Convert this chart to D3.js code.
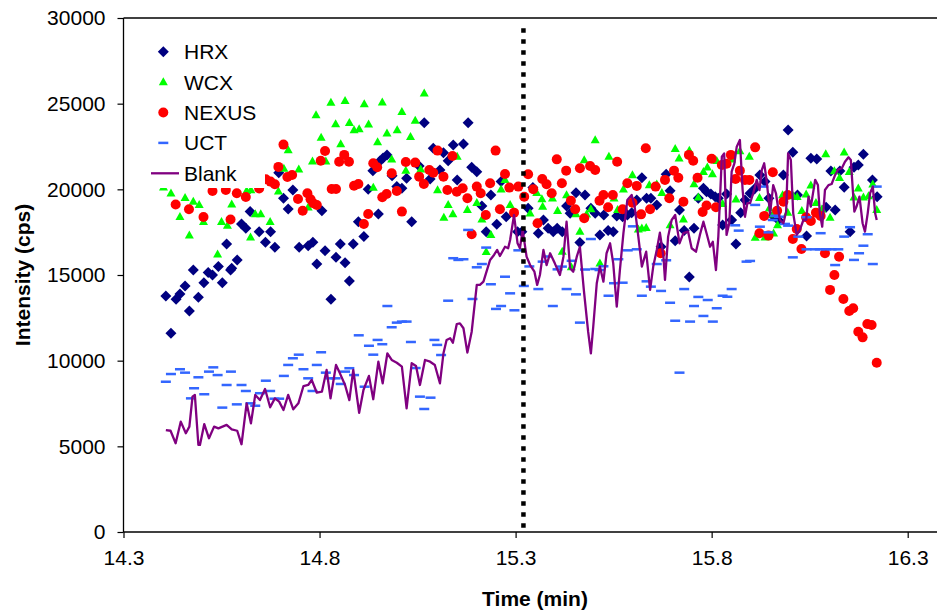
<!DOCTYPE html>
<html>
<head>
<meta charset="utf-8">
<script src="https://cdnjs.cloudflare.com/ajax/libs/d3/7.8.5/d3.min.js"></script>
<style>
  body { margin: 0; background: #fff; }
  svg { display: block; font-family: "Liberation Sans", Arial, sans-serif; }
</style>
</head>
<body>
<div id="chartContainer"></div>
<script>

////////////////////// data (time in min, intensity in cps) //////////////////////
var hrxData = [[14.408,13780],[14.421,11600],[14.434,13580],[14.444,13890],[14.457,14360],[14.468,12900],[14.478,15290],[14.491,13700],[14.505,14550],[14.516,15140],[14.527,15000],[14.542,15490],[14.552,14550],[14.563,16810],[14.573,15290],[14.576,15390],[14.590,15880],[14.601,17980],[14.612,17730],[14.623,18700],[14.646,17530],[14.662,16910],[14.675,17530],[14.686,16620],[14.696,20970],[14.708,19480],[14.720,18850],[14.732,19960],[14.748,16620],[14.771,16710],[14.783,16910],[14.793,15640],[14.806,18750],[14.814,16420],[14.829,13580],[14.842,16030],[14.853,16810],[14.865,15720],[14.876,14650],[14.886,16810],[14.899,18110],[14.913,17240],[14.924,20000],[14.936,21090],[14.950,18560],[14.954,21660],[14.962,21830],[14.972,22010],[14.985,20800],[14.997,20160],[15.010,20060],[15.022,20650],[15.035,18110],[15.054,21360],[15.067,23890],[15.082,20610],[15.090,22400],[15.107,21130],[15.116,22140],[15.128,21670],[15.141,22590],[15.151,20550],[15.167,22650],[15.179,23890],[15.188,21290],[15.201,21030],[15.214,19030],[15.225,17530],[15.237,19670],[15.252,17960],[15.263,20450],[15.276,18400],[15.305,17530],[15.316,17530],[15.332,18890],[15.344,20100],[15.358,17440],[15.371,18210],[15.383,17730],[15.396,17530],[15.406,17730],[15.419,17530],[15.430,19030],[15.439,18600],[15.454,19800],[15.464,16890],[15.477,19670],[15.492,18890],[15.503,18600],[15.515,17340],[15.525,18500],[15.536,17590],[15.549,17530],[15.558,18450],[15.573,18400],[15.585,18500],[15.596,18640],[15.609,19380],[15.622,20680],[15.634,19480],[15.645,19480],[15.660,19090],[15.671,16650],[15.684,20880],[15.694,19920],[15.707,17000],[15.718,18800],[15.730,17590],[15.743,14880],[15.755,17730],[15.766,19480],[15.779,20060],[15.787,19860],[15.798,19730],[15.809,19570],[15.817,19480],[15.828,17920],[15.838,19730],[15.851,18210],[15.862,16810],[15.874,18640],[15.885,19380],[15.898,19770],[15.911,20060],[15.923,20840],[15.936,20450],[15.946,19480],[15.957,18450],[15.970,18210],[15.983,20840],[15.995,23460],[16.007,22160],[16.019,19670],[16.042,17280],[16.053,21810],[16.068,21770],[16.092,18950],[16.104,21070],[16.115,18800],[16.127,21070],[16.138,20120],[16.153,17530],[16.163,21290],[16.174,21420],[16.187,22050],[16.210,20550],[16.222,19570]];

var wcxData = [[14.402,20120],[14.421,19770],[14.444,18390],[14.457,19500],[14.468,17310],[14.478,19280],[14.493,19090],[14.504,18110],[14.540,16210],[14.550,18110],[14.565,17890],[14.576,19120],[14.614,19920],[14.624,17200],[14.625,19960],[14.636,18560],[14.650,18560],[14.674,18110],[14.695,19890],[14.709,21210],[14.720,22300],[14.747,21170],[14.771,18950],[14.782,21640],[14.791,24340],[14.804,23020],[14.816,21640],[14.829,25060],[14.841,23810],[14.854,22650],[14.865,25170],[14.876,23890],[14.888,23460],[14.901,23520],[14.914,24980],[14.925,23800],[14.937,20100],[14.948,22760],[14.960,25080],[14.972,23270],[14.984,21750],[14.998,23460],[15.010,24530],[15.020,21090],[15.032,23070],[15.044,24010],[15.058,21170],[15.067,25610],[15.101,19960],[15.117,18360],[15.128,19090],[15.140,18560],[15.151,21910],[15.177,18800],[15.201,19220],[15.214,18250],[15.225,16360],[15.237,17340],[15.263,20000],[15.273,20550],[15.286,19090],[15.337,18600],[15.354,19800],[15.367,19440],[15.369,18990],[15.394,19480],[15.407,18740],[15.419,16370],[15.430,19670],[15.442,15470],[15.454,18560],[15.464,17530],[15.475,21710],[15.481,18540],[15.492,18850],[15.503,22880],[15.515,15680],[15.538,21910],[15.551,19480],[15.560,18800],[15.575,20000],[15.598,20840],[15.613,17670],[15.622,17730],[15.633,17760],[15.641,20250],[15.660,20300],[15.673,19800],[15.694,17920],[15.707,22360],[15.717,21810],[15.728,18250],[15.743,22260],[15.755,20310],[15.766,19540],[15.779,21030],[15.789,21280],[15.802,20890],[15.813,21660],[15.828,19160],[15.851,21750],[15.862,19420],[15.872,22240],[15.896,21910],[15.911,17180],[15.922,19510],[15.936,17200],[15.947,18890],[15.957,18540],[15.958,17440],[15.968,17920],[15.981,19670],[15.994,18640],[16.008,19610],[16.018,19570],[16.030,18740],[16.041,19710],[16.053,20240],[16.066,19220],[16.081,18840],[16.091,22060],[16.102,18350],[16.113,21070],[16.126,20680],[16.138,22160],[16.151,21030],[16.163,19540],[16.174,20060],[16.187,19540],[16.200,19610],[16.211,20300],[16.221,18800]];

var nexusData = [[14.433,19120],[14.467,18840],[14.504,18390],[14.527,19900],[14.561,19960],[14.573,18240],[14.589,19770],[14.612,19550],[14.646,20050],[14.663,20590],[14.675,20450],[14.686,20300],[14.695,21310],[14.708,22610],[14.718,20720],[14.730,20840],[14.745,19440],[14.757,18750],[14.769,19770],[14.777,19420],[14.784,19190],[14.793,19090],[14.803,21670],[14.814,22240],[14.831,20020],[14.842,20020],[14.850,21610],[14.863,22010],[14.875,21610],[14.888,20210],[14.899,20310],[14.913,17980],[14.924,18560],[14.937,21520],[14.947,21290],[14.960,19540],[14.971,19730],[14.984,20940],[14.997,19900],[15.010,18700],[15.020,21600],[15.044,21560],[15.054,20740],[15.066,20310],[15.080,21130],[15.090,20970],[15.101,22260],[15.116,20740],[15.126,19960],[15.139,21950],[15.150,19860],[15.165,20060],[15.177,19480],[15.188,17380],[15.201,20160],[15.211,19770],[15.224,18500],[15.235,20350],[15.249,22260],[15.260,18840],[15.273,20900],[15.284,20100],[15.296,18640],[15.307,20160],[15.322,19570],[15.332,20880],[15.345,20000],[15.356,18020],[15.368,20600],[15.379,20300],[15.392,19770],[15.405,21750],[15.418,20350],[15.429,21090],[15.441,19340],[15.452,18840],[15.464,21230],[15.475,18310],[15.490,21360],[15.503,21130],[15.514,19340],[15.524,19670],[15.536,18950],[15.548,19670],[15.559,21610],[15.573,18840],[15.585,20350],[15.598,19220],[15.609,20200],[15.620,18540],[15.632,22400],[15.643,18840],[15.657,20160],[15.670,16270],[15.681,20550],[15.692,19480],[15.704,21090],[15.715,20680],[15.728,19280],[15.742,22010],[15.753,21670],[15.764,20680],[15.777,18680],[15.787,19060],[15.800,21790],[15.811,18950],[15.826,21420],[15.838,21490],[15.849,22010],[15.861,20600],[15.872,21090],[15.885,20550],[15.896,20550],[15.911,22450],[15.922,17440],[15.934,18450],[15.945,17300],[15.956,21000],[15.967,18750],[15.983,19280],[15.994,19670],[16.007,17100],[16.017,17690],[16.029,16520],[16.041,18370],[16.053,18150],[16.066,18640],[16.078,18450],[16.089,16270],[16.102,14130],[16.113,15000],[16.125,16070],[16.136,13600],[16.151,12900],[16.161,13060],[16.174,11690],[16.185,11360],[16.197,12140],[16.208,12080],[16.221,9880]];

var uctData = [[14.408,8770],[14.421,9220],[14.444,9500],[14.457,9300],[14.472,7800],[14.480,8390],[14.491,9030],[14.506,8040],[14.518,9360],[14.529,9610],[14.540,9160],[14.552,7260],[14.563,8580],[14.574,9360],[14.589,7450],[14.601,8580],[14.612,8230],[14.624,7510],[14.636,7370],[14.648,8100],[14.663,8830],[14.674,8230],[14.685,7780],[14.697,7780],[14.709,9110],[14.720,9750],[14.732,10140],[14.747,10350],[14.759,9500],[14.771,8970],[14.782,8230],[14.793,9750],[14.804,10490],[14.816,9300],[14.828,8970],[14.841,8970],[14.854,8640],[14.865,9360],[14.876,9560],[14.888,9160],[14.900,11480],[14.915,8480],[14.926,10870],[14.937,10350],[14.948,11210],[14.960,10960],[14.973,13190],[14.984,11950],[14.997,12220],[15.010,12280],[15.022,12280],[15.033,11090],[15.045,9570],[15.056,7900],[15.067,7180],[15.083,7840],[15.093,11210],[15.100,10920],[15.110,10330],[15.128,13500],[15.141,15980],[15.154,15880],[15.167,15920],[15.179,17630],[15.190,13600],[15.201,15450],[15.214,15640],[15.225,16600],[15.237,14460],[15.250,13020],[15.263,13190],[15.273,14900],[15.286,13930],[15.297,12940],[15.307,16440],[15.321,14360],[15.335,15500],[15.358,14180],[15.369,15780],[15.380,16080],[15.395,13190],[15.407,15330],[15.418,15490],[15.430,14180],[15.443,15830],[15.454,13870],[15.464,12220],[15.477,15320],[15.492,17100],[15.503,15350],[15.514,15290],[15.524,15510],[15.537,13790],[15.551,14520],[15.562,15920],[15.573,14550],[15.586,16440],[15.599,17840],[15.609,16500],[15.622,13790],[15.634,14630],[15.645,14320],[15.660,15640],[15.671,14070],[15.684,15860],[15.694,13380],[15.707,12330],[15.718,9300],[15.730,14180],[15.745,12280],[15.755,13190],[15.766,13720],[15.779,12610],[15.790,13540],[15.803,12280],[15.813,13060],[15.828,13790],[15.840,13730],[15.851,14180],[15.860,17900],[15.869,17590],[15.889,15780],[15.898,15820],[15.911,19090],[15.923,17820],[15.932,20160],[15.945,17490],[15.956,18210],[15.962,18460],[15.972,18400],[15.987,17980],[15.995,17880],[16.007,16030],[16.021,17240],[16.042,18370],[16.042,16500],[16.064,16500],[16.076,16500],[16.078,17440],[16.092,16500],[16.106,16500],[16.115,15580],[16.123,16500],[16.138,17240],[16.153,17790],[16.163,15880],[16.176,16270],[16.187,16710],[16.198,17380],[16.211,15640],[16.221,20160]];

var blankData = [[14.408,5950],[14.420,5910],[14.433,5180],[14.446,6440],[14.459,5760],[14.468,6150],[14.476,7900],[14.482,8000],[14.491,5080],[14.495,5080],[14.506,6300],[14.518,5470],[14.531,6150],[14.542,6050],[14.563,6250],[14.576,5990],[14.590,5910],[14.601,5120],[14.614,7510],[14.625,6340],[14.636,8000],[14.648,7700],[14.661,8350],[14.674,7280],[14.686,7800],[14.697,7610],[14.708,7120],[14.720,8000],[14.733,7160],[14.746,7510],[14.759,8520],[14.771,8580],[14.780,8870],[14.793,8130],[14.806,8190],[14.818,9460],[14.828,7800],[14.842,9750],[14.852,9260],[14.865,8580],[14.876,7700],[14.886,9460],[14.901,6960],[14.912,8290],[14.926,9110],[14.937,7750],[14.950,9940],[14.961,8680],[14.973,10430],[14.984,10040],[14.997,9880],[15.010,9650],[15.022,7220],[15.035,9850],[15.046,9690],[15.056,8580],[15.069,10040],[15.082,9940],[15.094,9750],[15.107,8680],[15.116,10430],[15.124,11210],[15.133,11310],[15.140,11050],[15.150,12140],[15.158,12180],[15.167,11890],[15.177,10470],[15.188,11690],[15.201,14420],[15.209,14420],[15.218,14610],[15.235,15880],[15.245,16170],[15.253,16460],[15.260,16110],[15.273,16650],[15.281,16560],[15.286,17040],[15.296,18500],[15.305,16850],[15.311,16560],[15.318,17630],[15.328,16070],[15.337,15580],[15.348,15190],[15.355,14420],[15.362,15000],[15.371,16460],[15.379,15580],[15.388,16270],[15.400,15680],[15.413,15000],[15.422,16070],[15.430,18110],[15.439,15390],[15.447,15190],[15.456,16070],[15.464,16650],[15.474,14130],[15.485,11690],[15.492,10430],[15.498,11980],[15.507,14520],[15.515,15490],[15.524,14610],[15.532,16270],[15.541,16850],[15.549,15680],[15.558,13150],[15.566,15290],[15.575,17440],[15.585,19380],[15.596,19670],[15.603,19090],[15.613,17240],[15.622,15490],[15.633,16360],[15.643,14130],[15.651,15490],[15.660,16460],[15.668,17470],[15.677,16070],[15.681,14710],[15.689,17240],[15.698,18210],[15.707,18500],[15.718,16850],[15.728,17440],[15.740,17530],[15.749,16560],[15.760,16360],[15.770,17340],[15.779,18110],[15.787,17440],[15.796,16650],[15.803,16940],[15.811,15290],[15.817,17240],[15.826,21910],[15.832,22100],[15.838,17340],[15.845,18020],[15.851,21030],[15.858,21520],[15.864,22490],[15.872,22880],[15.879,19960],[15.885,18400],[15.891,19190],[15.898,19190],[15.906,19770],[15.915,20550],[15.922,19960],[15.928,21130],[15.934,21520],[15.940,20550],[15.949,18600],[15.957,20250],[15.964,19770],[15.974,18210],[15.983,18020],[15.990,18700],[15.995,22100],[16.002,21710],[16.008,18600],[16.017,17340],[16.025,17630],[16.034,18210],[16.041,18210],[16.047,19570],[16.053,18990],[16.064,20550],[16.071,20250],[16.076,18600],[16.082,17820],[16.089,19960],[16.098,20250],[16.106,20310],[16.115,20840],[16.123,21170],[16.132,21230],[16.140,21610],[16.149,21870],[16.155,21710],[16.160,19960],[16.164,18700],[16.170,19030],[16.177,19570],[16.185,18020],[16.191,17530],[16.198,18600],[16.204,19770],[16.211,20160],[16.217,18600],[16.221,18210]];

var seriesNames = ["HRX", "WCX", "NEXUS", "UCT", "Blank"];
var xTicks = [14.3, 14.8, 15.3, 15.8, 16.3];
var yTicks = [0, 5000, 10000, 15000, 20000, 25000, 30000];
var markerTime = 15.32;   // dotted vertical line
var markerTop = 29400;

////////////////////// init //////////////////////
var chartWidth = 937, chartHeight = 614;
var plotLeft = 123.5, plotTop = 18, plotBottom = 532, plotRight = 937;

var svg = d3.select('#chartContainer')
  .append('svg')
    .attr('width', chartWidth)
    .attr('height', chartHeight);

svg.append('rect')
  .attr('width', chartWidth)
  .attr('height', chartHeight)
  .attr('fill', '#fff');

var xScale = d3.scaleLinear()
  .domain([14.3, 16.3])
  .range([plotLeft, 907.7]);

var yScale = d3.scaleLinear()
  .domain([0, 30000])
  .range([plotBottom, plotTop]);

var colors = { HRX: '#000080', WCX: '#00FF00', NEXUS: '#FF0000', UCT: '#3366FF', Blank: '#800080' };

////////////////////// axes //////////////////////
var xAxis = d3.axisBottom(xScale)
  .tickValues(xTicks)
  .tickFormat(d3.format('.1f'))
  .tickSize(6)
  .tickSizeOuter(0)
  .tickPadding(12);

var yAxis = d3.axisLeft(yScale)
  .tickValues(yTicks)
  .tickFormat(d3.format('d'))
  .tickSize(6)
  .tickSizeOuter(0)
  .tickPadding(12);

var gx = svg.append('g')
  .attr('transform', 'translate(0,' + plotBottom + ')')
  .call(xAxis);
gx.select('.domain').remove();

var gy = svg.append('g')
  .attr('transform', 'translate(' + plotLeft + ',0)')
  .call(yAxis);
gy.select('.domain').remove();

svg.selectAll('.tick text')
  .attr('font-size', 21)
  .attr('font-family', '"Liberation Sans", Arial, sans-serif')
  .attr('fill', '#000');
svg.selectAll('.tick line')
  .attr('stroke', '#000')
  .attr('stroke-width', 1.2);

// plot frame (left, top, bottom); right side falls off the canvas
svg.append('line')
  .attr('x1', plotLeft).attr('x2', plotLeft)
  .attr('y1', plotTop).attr('y2', plotBottom)
  .attr('stroke', '#000').attr('stroke-width', 1.3);
svg.append('line')
  .attr('x1', plotLeft).attr('x2', plotRight)
  .attr('y1', plotTop).attr('y2', plotTop)
  .attr('stroke', '#000').attr('stroke-width', 1.3);
svg.append('line')
  .attr('x1', plotLeft).attr('x2', plotRight)
  .attr('y1', plotBottom).attr('y2', plotBottom)
  .attr('stroke', '#000').attr('stroke-width', 1.3);

svg.append('text')
  .attr('transform', 'translate(29.5,' + ((plotTop + plotBottom) / 2) + ') rotate(-90)')
  .attr('text-anchor', 'middle')
  .attr('font-weight', 'bold')
  .attr('font-size', 21)
  .text('Intensity (cps)');

svg.append('text')
  .attr('x', 535)
  .attr('y', 606)
  .attr('text-anchor', 'middle')
  .attr('font-weight', 'bold')
  .attr('font-size', 21)
  .text('Time (min)');

////////////////////// markers //////////////////////
var diamondPath = 'M0,-5.5L5.5,0L0,5.5L-5.5,0Z';
var trianglePath = 'M0,-4.8L4.5,3.2L-4.5,3.2Z';

function tr(d) { return 'translate(' + xScale(d[0]) + ',' + yScale(d[1]) + ')'; }

var plot = svg.append('g').attr('class', 'plot');

plot.selectAll('.hrx')
  .data(hrxData)
  .enter().append('path')
  .attr('class', 'hrx')
  .attr('d', diamondPath)
  .attr('transform', tr)
  .attr('fill', colors.HRX);

plot.selectAll('.wcx')
  .data(wcxData)
  .enter().append('path')
  .attr('class', 'wcx')
  .attr('d', trianglePath)
  .attr('transform', tr)
  .attr('fill', colors.WCX);

plot.selectAll('.nexus')
  .data(nexusData)
  .enter().append('circle')
  .attr('class', 'nexus')
  .attr('cx', function(d) { return xScale(d[0]); })
  .attr('cy', function(d) { return yScale(d[1]); })
  .attr('r', 5)
  .attr('fill', colors.NEXUS);

plot.selectAll('.uct')
  .data(uctData)
  .enter().append('rect')
  .attr('class', 'uct')
  .attr('x', function(d) { return xScale(d[0]) - 5; })
  .attr('y', function(d) { return yScale(d[1]) - 1.25; })
  .attr('width', 10)
  .attr('height', 2.5)
  .attr('fill', colors.UCT);

var blankLine = d3.line()
  .x(function(d) { return xScale(d[0]); })
  .y(function(d) { return yScale(d[1]); });

plot.append('path')
  .datum(blankData)
  .attr('d', blankLine)
  .attr('fill', 'none')
  .attr('stroke', colors.Blank)
  .attr('stroke-width', 2.3)
  .attr('stroke-linejoin', 'round');

// dotted marker line
plot.append('line')
  .attr('x1', xScale(markerTime)).attr('x2', xScale(markerTime))
  .attr('y1', yScale(markerTop)).attr('y2', yScale(0))
  .attr('stroke', '#000')
  .attr('stroke-width', 4.5)
  .attr('stroke-dasharray', '4.5,6.5');

////////////////////// legend //////////////////////
var legend = svg.append('g').attr('class', 'legend');

legend.append('rect')
  .attr('x', 141).attr('y', 30)
  .attr('width', 124).attr('height', 158)
  .attr('fill', '#fff');

var rowY = function(i) { return 51.7 + i * 30.4; };
var symX = 163.3;

legend.append('path').attr('d', diamondPath)
  .attr('transform', 'translate(' + symX + ',' + rowY(0) + ')').attr('fill', colors.HRX);
legend.append('path').attr('d', trianglePath)
  .attr('transform', 'translate(' + symX + ',' + rowY(1) + ')').attr('fill', colors.WCX);
legend.append('circle')
  .attr('cx', symX).attr('cy', rowY(2)).attr('r', 5).attr('fill', colors.NEXUS);
legend.append('rect')
  .attr('x', symX - 5).attr('y', rowY(3) - 1.25).attr('width', 10).attr('height', 2.5)
  .attr('fill', colors.UCT);
legend.append('line')
  .attr('x1', 151).attr('x2', 179).attr('y1', rowY(4)).attr('y2', rowY(4))
  .attr('stroke', colors.Blank).attr('stroke-width', 2.3);

legend.selectAll('.legendText')
  .data(seriesNames)
  .enter().append('text')
  .attr('class', 'legendText')
  .attr('x', 184)
  .attr('y', function(d, i) { return rowY(i); })
  .attr('dy', '0.36em')
  .attr('font-size', 21)
  .attr('fill', '#000')
  .text(function(d) { return d; });

</script>
</body>
</html>
